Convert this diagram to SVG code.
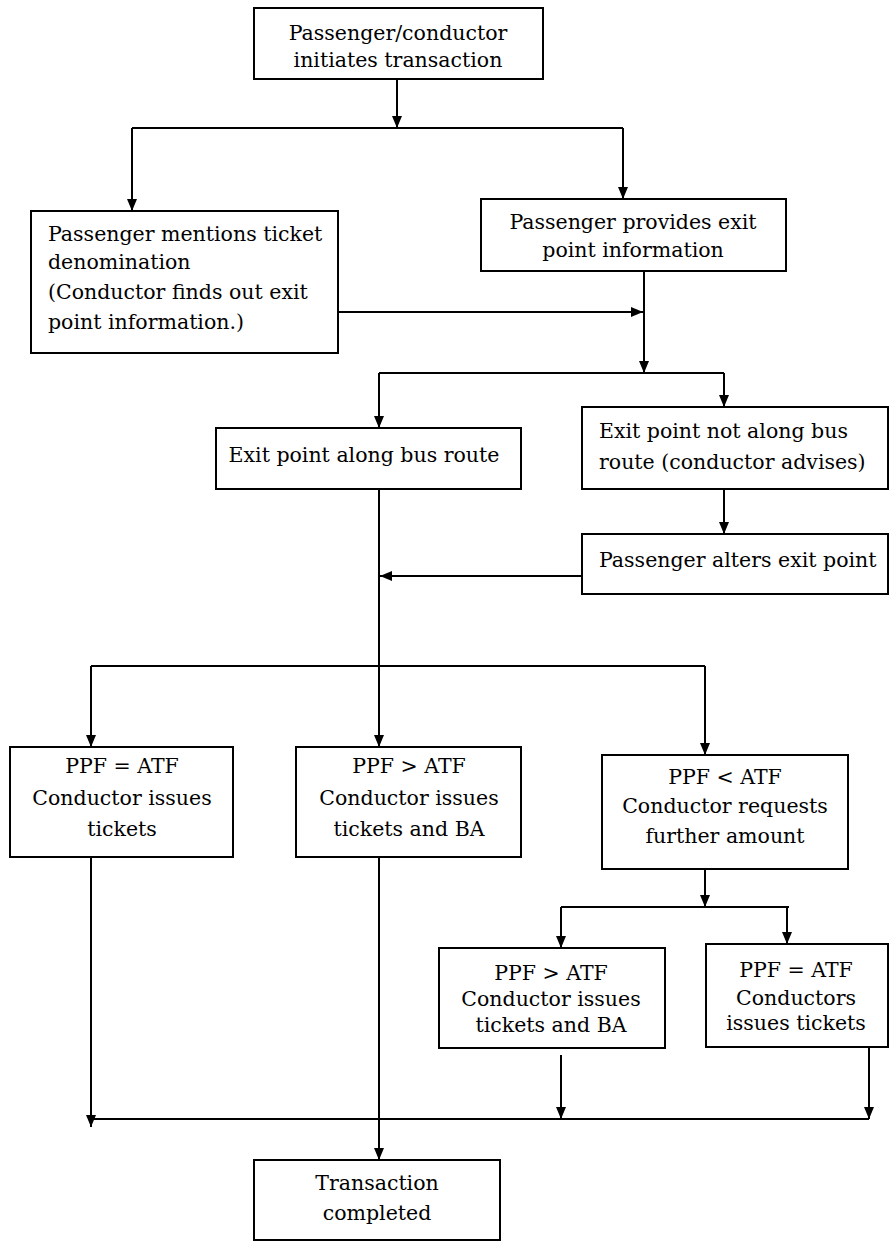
<svg xmlns="http://www.w3.org/2000/svg" width="890" height="1249" viewBox="0 0 890 1249">
<defs>
<marker id="ah" markerUnits="userSpaceOnUse" markerWidth="12" markerHeight="10" refX="12" refY="5" orient="auto">
<path d="M0,0 L12,5 L0,10 z" fill="#000"/>
</marker>
<style>
.box{fill:#fff;stroke:#000;stroke-width:2}
.t{font-family:"DejaVu Serif","Liberation Serif",serif;font-size:20.5px;fill:#000}
.c{text-anchor:middle}
.ln{fill:none;stroke:#000;stroke-width:2}
.ar{fill:none;stroke:#000;stroke-width:2;marker-end:url(#ah)}
</style>
</defs>
<rect width="890" height="1249" fill="#fff"/>
<g id="connectors">
<path class="ar" d="M397,79 V128"/>
<path class="ln" d="M132,128 H623"/>
<path class="ar" d="M132,128 V211"/>
<path class="ar" d="M623,128 V199"/>
<path class="ar" d="M644,271 V373"/>
<path class="ar" d="M338,312 H643"/>
<path class="ln" d="M379,373 H724"/>
<path class="ar" d="M379,373 V428"/>
<path class="ar" d="M724,373 V407"/>
<path class="ar" d="M724,489 V534"/>
<path class="ar" d="M582,576 H380"/>
<path class="ar" d="M379,489 V747"/>
<path class="ln" d="M91,666 H705"/>
<path class="ar" d="M91,666 V747"/>
<path class="ar" d="M705,666 V755"/>
<path class="ar" d="M705,869 V907"/>
<path class="ln" d="M561,907 H789"/>
<path class="ar" d="M561,907 V948"/>
<path class="ar" d="M787,907 V944"/>
<path class="ln" d="M91,1119 H869"/>
<path class="ar" d="M91,858 V1127"/>
<path class="ar" d="M561,1055 V1119"/>
<path class="ar" d="M869,1040 V1119"/>
<path class="ar" d="M379,858 V1160"/>
</g>
<g id="n1"><rect class="box" x="254" y="8" width="289" height="71"/>
<text class="t c" x="398" y="40">Passenger/conductor</text>
<text class="t c" x="398" y="67">initiates transaction</text></g>
<g id="n2"><rect class="box" x="31" y="211" width="307" height="142"/>
<text class="t" x="48" y="241">Passenger mentions ticket</text>
<text class="t" x="48" y="269">denomination</text>
<text class="t" x="48" y="299">(Conductor finds out exit</text>
<text class="t" x="48" y="329">point information.)</text></g>
<g id="n3"><rect class="box" x="481" y="199" width="305" height="72"/>
<text class="t c" x="633" y="229">Passenger provides exit</text>
<text class="t c" x="633" y="257">point information</text></g>
<g id="n4"><rect class="box" x="216" y="428" width="305" height="61"/>
<text class="t c" x="364" y="462">Exit point along bus route</text></g>
<g id="n5"><rect class="box" x="582" y="407" width="306" height="82"/>
<text class="t" x="599" y="438">Exit point not along bus</text>
<text class="t" x="599" y="469">route (conductor advises)</text></g>
<g id="n6"><rect class="box" x="582" y="534" width="306" height="60"/>
<text class="t" x="599" y="567">Passenger alters exit point</text></g>
<g id="n7"><rect class="box" x="10" y="747" width="223" height="110"/>
<text class="t c" x="122" y="773">PPF = ATF</text>
<text class="t c" x="122" y="805">Conductor issues</text>
<text class="t c" x="122" y="836">tickets</text></g>
<g id="n8"><rect class="box" x="296" y="747" width="225" height="110"/>
<text class="t c" x="409" y="773">PPF &gt; ATF</text>
<text class="t c" x="409" y="805">Conductor issues</text>
<text class="t c" x="409" y="836">tickets and BA</text></g>
<g id="n9"><rect class="box" x="602" y="755" width="246" height="114"/>
<text class="t c" x="725" y="784">PPF &lt; ATF</text>
<text class="t c" x="725" y="813">Conductor requests</text>
<text class="t c" x="725" y="843">further amount</text></g>
<g id="n10"><rect class="box" x="439" y="948" width="226" height="100"/>
<text class="t c" x="551" y="980">PPF &gt; ATF</text>
<text class="t c" x="551" y="1006">Conductor issues</text>
<text class="t c" x="551" y="1032">tickets and BA</text></g>
<g id="n11"><rect class="box" x="706" y="944" width="182" height="103"/>
<text class="t c" x="796" y="977">PPF = ATF</text>
<text class="t c" x="796" y="1005">Conductors</text>
<text class="t c" x="796" y="1030">issues tickets</text></g>
<g id="n12"><rect class="box" x="254" y="1160" width="246" height="80"/>
<text class="t c" x="377" y="1190">Transaction</text>
<text class="t c" x="377" y="1220">completed</text></g>
</svg>
